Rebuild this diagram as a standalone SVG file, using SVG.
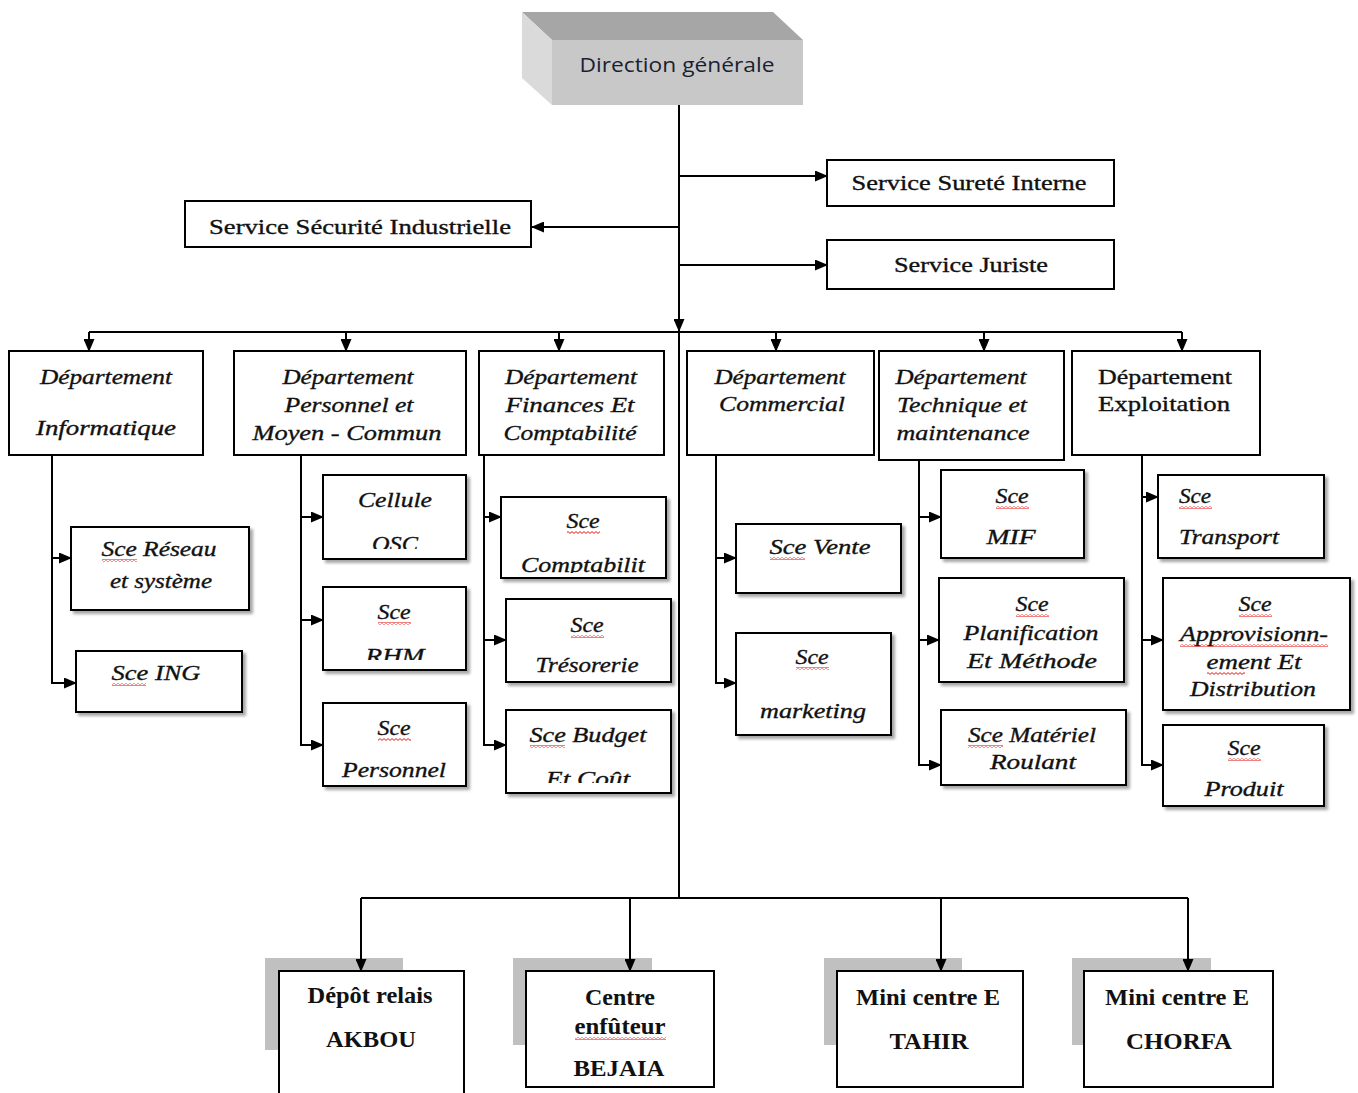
<svg xmlns="http://www.w3.org/2000/svg" width="1358" height="1093" viewBox="0 0 1358 1093">
<style>
.box{fill:#fff;stroke:#000;stroke-width:2}
.sh{filter:url(#ds)}
.con{fill:none;stroke:#000;stroke-width:2}
.arr{marker-end:url(#ah)}
.t{font-family:"Liberation Serif",serif;font-size:22px;fill:#111;text-anchor:middle;stroke:#111;stroke-width:0.35}
.i{font-style:italic}
.b{font-weight:bold;font-size:24px;stroke-width:0}
.s{font-family:"Open Sans","Liberation Sans",sans-serif;font-size:20px;fill:#1a1f33;text-anchor:middle}
.sq{fill:url(#sq)}
.gs{fill:#c0c0c0}
</style>
<defs>
<marker id="ah" markerUnits="userSpaceOnUse" markerWidth="13" markerHeight="11" refX="12" refY="5.5" orient="auto">
<path d="M0,0 L13,5.5 L0,11 z" fill="#000"/>
</marker>
<filter id="ds" x="-10%" y="-10%" width="130%" height="130%">
<feDropShadow dx="3" dy="3" stdDeviation="1.5" flood-color="#000" flood-opacity="0.35"/>
</filter>
<pattern id="sq" patternUnits="userSpaceOnUse" width="4" height="3">
<path d="M0,0.6 L2,2.4 L4,0.6" fill="none" stroke="#e00000" stroke-width="0.9"/>
</pattern>
<clipPath id="cOSC"><rect x="323" y="475" width="143" height="74"/></clipPath>
<clipPath id="cRHM"><rect x="323" y="587" width="143" height="73"/></clipPath>
<clipPath id="cCpt"><rect x="501" y="497" width="148" height="76"/></clipPath>
<clipPath id="cBud"><rect x="506" y="710" width="165" height="73"/></clipPath>
</defs>

<g id="direction-generale">
<polygon points="522,12 773,12 803,40 552,40" fill="#a6a6a6"/>
<polygon points="522,12 552,40 552,105 522,78" fill="#dadada"/>
<rect x="552" y="40" width="251" height="65" fill="#c8c8c8"/>
<text class="s" x="677" y="72" textLength="195" lengthAdjust="spacingAndGlyphs">Direction  générale</text>
</g>

<g id="service-surete-interne">
<rect class="box" x="827" y="160" width="287" height="46"/>
<text class="t" x="969" y="190" textLength="235" lengthAdjust="spacingAndGlyphs">Service Sureté Interne</text>
</g>
<g id="service-juriste">
<rect class="box" x="827" y="240" width="287" height="49"/>
<text class="t" x="971" y="272" textLength="154" lengthAdjust="spacingAndGlyphs">Service Juriste</text>
</g>
<g id="service-securite-industrielle">
<rect class="box" x="185" y="201" width="346" height="46"/>
<text class="t" x="360" y="234" textLength="302" lengthAdjust="spacingAndGlyphs">Service Sécurité Industrielle</text>
</g>

<g id="dept-informatique">
<rect class="box" x="9" y="351" width="194" height="104"/>
<text class="t i" x="106" y="384" textLength="132" lengthAdjust="spacingAndGlyphs">Département</text>
<text class="t i" x="106" y="435" textLength="140" lengthAdjust="spacingAndGlyphs">Informatique</text>
</g>
<g id="dept-personnel">
<rect class="box" x="234" y="351" width="232" height="104"/>
<text class="t i" x="348" y="384" textLength="131" lengthAdjust="spacingAndGlyphs">Département</text>
<text class="t i" x="349" y="412" textLength="129" lengthAdjust="spacingAndGlyphs">Personnel et</text>
<text class="t i" x="347" y="440" textLength="189" lengthAdjust="spacingAndGlyphs">Moyen - Commun</text>
</g>
<g id="dept-finances">
<rect class="box" x="479" y="351" width="185" height="104"/>
<text class="t i" x="571" y="384" textLength="132" lengthAdjust="spacingAndGlyphs">Département</text>
<text class="t i" x="570" y="412" textLength="129" lengthAdjust="spacingAndGlyphs">Finances Et</text>
<text class="t i" x="570" y="440" textLength="133" lengthAdjust="spacingAndGlyphs">Comptabilité</text>
</g>
<g id="dept-commercial">
<rect class="box" x="687" y="351" width="187" height="104"/>
<text class="t i" x="780" y="384" textLength="131" lengthAdjust="spacingAndGlyphs">Département</text>
<text class="t i" x="782" y="411" textLength="126" lengthAdjust="spacingAndGlyphs">Commercial</text>
</g>
<g id="dept-technique">
<rect class="box" x="879" y="351" width="185" height="109"/>
<text class="t i" x="961" y="384" textLength="131" lengthAdjust="spacingAndGlyphs">Département</text>
<text class="t i" x="962" y="412" textLength="130" lengthAdjust="spacingAndGlyphs">Technique et</text>
<text class="t i" x="963" y="440" textLength="133" lengthAdjust="spacingAndGlyphs">maintenance</text>
</g>
<g id="dept-exploitation">
<rect class="box" x="1072" y="351" width="188" height="104"/>
<text class="t" x="1165" y="384" textLength="134" lengthAdjust="spacingAndGlyphs">Département</text>
<text class="t" x="1164" y="411" textLength="132" lengthAdjust="spacingAndGlyphs">Exploitation</text>
</g>

<g id="sce-reseau">
<rect class="box sh" x="71" y="527" width="178" height="83"/>
<text class="t i" x="159" y="556" textLength="115" lengthAdjust="spacingAndGlyphs">Sce Réseau</text>
<text class="t i" x="161" y="588" textLength="102" lengthAdjust="spacingAndGlyphs">et système</text>
<rect class="sq" x="102" y="559" width="35" height="3"/>
</g>
<g id="sce-ing">
<rect class="box sh" x="76" y="651" width="166" height="61"/>
<text class="t i" x="156" y="680" textLength="89" lengthAdjust="spacingAndGlyphs">Sce ING</text>
<rect class="sq" x="112" y="683" width="34" height="3"/>
</g>
<g id="cellule-osc">
<rect class="box sh" x="323" y="475" width="143" height="84"/>
<text class="t i" x="395" y="507" textLength="74" lengthAdjust="spacingAndGlyphs">Cellule</text>
<text class="t i" x="395" y="551" textLength="46" lengthAdjust="spacingAndGlyphs" clip-path="url(#cOSC)">OSC</text>
</g>
<g id="sce-rhm">
<rect class="box sh" x="323" y="587" width="143" height="83"/>
<text class="t i" x="394" y="619" textLength="33" lengthAdjust="spacingAndGlyphs">Sce</text>
<rect class="sq" x="378" y="622" width="33" height="3"/>
<text class="t i" x="395" y="663" textLength="59" lengthAdjust="spacingAndGlyphs" clip-path="url(#cRHM)">RHM</text>
</g>
<g id="sce-personnel">
<rect class="box sh" x="323" y="703" width="143" height="83"/>
<text class="t i" x="394" y="735" textLength="33" lengthAdjust="spacingAndGlyphs">Sce</text>
<rect class="sq" x="378" y="738" width="33" height="3"/>
<text class="t i" x="394" y="777" textLength="104" lengthAdjust="spacingAndGlyphs">Personnel</text>
</g>
<g id="sce-comptabilite">
<rect class="box sh" x="501" y="497" width="165" height="81"/>
<text class="t i" x="583" y="528" textLength="33" lengthAdjust="spacingAndGlyphs">Sce</text>
<rect class="sq" x="567" y="531" width="33" height="3"/>
<text class="t i" x="583" y="572" textLength="124" lengthAdjust="spacingAndGlyphs" clip-path="url(#cCpt)">Comptabilit</text>
</g>
<g id="sce-tresorerie">
<rect class="box sh" x="506" y="599" width="165" height="83"/>
<text class="t i" x="587" y="632" textLength="33" lengthAdjust="spacingAndGlyphs">Sce</text>
<rect class="sq" x="571" y="635" width="33" height="3"/>
<text class="t i" x="587" y="672" textLength="103" lengthAdjust="spacingAndGlyphs">Trésorerie</text>
</g>
<g id="sce-budget">
<rect class="box sh" x="506" y="710" width="165" height="83"/>
<text class="t i" x="588" y="742" textLength="117" lengthAdjust="spacingAndGlyphs">Sce Budget</text>
<rect class="sq" x="530" y="745" width="35" height="3"/>
<text class="t i" x="588" y="786" textLength="84" lengthAdjust="spacingAndGlyphs" clip-path="url(#cBud)">Et Coût</text>
</g>
<g id="sce-vente">
<rect class="box sh" x="736" y="524" width="165" height="69"/>
<text class="t i" x="820" y="554" textLength="101" lengthAdjust="spacingAndGlyphs">Sce Vente</text>
<rect class="sq" x="770" y="557" width="35" height="3"/>
</g>
<g id="sce-marketing">
<rect class="box sh" x="736" y="633" width="155" height="102"/>
<text class="t i" x="812" y="664" textLength="33" lengthAdjust="spacingAndGlyphs">Sce</text>
<rect class="sq" x="796" y="667" width="33" height="3"/>
<text class="t i" x="813" y="718" textLength="106" lengthAdjust="spacingAndGlyphs">marketing</text>
</g>
<g id="sce-mif">
<rect class="box sh" x="941" y="470" width="143" height="88"/>
<text class="t i" x="1012" y="503" textLength="33" lengthAdjust="spacingAndGlyphs">Sce</text>
<rect class="sq" x="996" y="506" width="33" height="3"/>
<text class="t i" x="1011" y="544" textLength="49" lengthAdjust="spacingAndGlyphs">MIF</text>
</g>
<g id="sce-planification">
<rect class="box sh" x="939" y="578" width="185" height="104"/>
<text class="t i" x="1032" y="611" textLength="33" lengthAdjust="spacingAndGlyphs">Sce</text>
<rect class="sq" x="1016" y="614" width="33" height="3"/>
<text class="t i" x="1031" y="640" textLength="135" lengthAdjust="spacingAndGlyphs">Planification</text>
<text class="t i" x="1032" y="668" textLength="130" lengthAdjust="spacingAndGlyphs">Et  Méthode</text>
</g>
<g id="sce-materiel">
<rect class="box sh" x="941" y="710" width="185" height="75"/>
<text class="t i" x="1032" y="742" textLength="128" lengthAdjust="spacingAndGlyphs">Sce Matériel</text>
<rect class="sq" x="968" y="745" width="35" height="3"/>
<text class="t i" x="1033" y="769" textLength="86" lengthAdjust="spacingAndGlyphs">Roulant</text>
</g>
<g id="sce-transport">
<rect class="box sh" x="1158" y="475" width="166" height="83"/>
<text class="t i" x="1195" y="503" textLength="32" lengthAdjust="spacingAndGlyphs">Sce</text>
<rect class="sq" x="1179" y="506" width="33" height="3"/>
<text class="t i" x="1229" y="544" textLength="100" lengthAdjust="spacingAndGlyphs">Transport</text>
</g>
<g id="sce-approvisionnement">
<rect class="box sh" x="1163" y="578" width="187" height="132"/>
<text class="t i" x="1255" y="611" textLength="33" lengthAdjust="spacingAndGlyphs">Sce</text>
<rect class="sq" x="1239" y="614" width="33" height="3"/>
<text class="t i" x="1254" y="641" textLength="148" lengthAdjust="spacingAndGlyphs">Approvisionn-</text>
<rect class="sq" x="1180" y="644" width="148" height="3"/>
<text class="t i" x="1254" y="669" textLength="95" lengthAdjust="spacingAndGlyphs">ement Et</text>
<rect class="sq" x="1207" y="672" width="38" height="3"/>
<text class="t i" x="1253" y="696" textLength="126" lengthAdjust="spacingAndGlyphs">Distribution</text>
</g>
<g id="sce-produit">
<rect class="box sh" x="1163" y="725" width="161" height="81"/>
<text class="t i" x="1244" y="755" textLength="33" lengthAdjust="spacingAndGlyphs">Sce</text>
<rect class="sq" x="1228" y="758" width="33" height="3"/>
<text class="t i" x="1244" y="796" textLength="79" lengthAdjust="spacingAndGlyphs">Produit</text>
</g>

<g id="depot-akbou">
<rect class="gs" x="265" y="958" width="138" height="92"/>
<rect class="box" x="279" y="971" width="185" height="130"/>
<text class="t b" x="370" y="1003" textLength="125" lengthAdjust="spacingAndGlyphs">Dépôt relais</text>
<text class="t b" x="371" y="1047" textLength="90" lengthAdjust="spacingAndGlyphs">AKBOU</text>
</g>
<g id="centre-bejaia">
<rect class="gs" x="513" y="958" width="139" height="87"/>
<rect class="box" x="526" y="971" width="188" height="116"/>
<text class="t b" x="620" y="1005" textLength="70" lengthAdjust="spacingAndGlyphs">Centre</text>
<text class="t b" x="620" y="1034" textLength="91" lengthAdjust="spacingAndGlyphs">enfûteur</text>
<rect class="sq" x="575" y="1037" width="91" height="3"/>
<text class="t b" x="619" y="1076" textLength="91" lengthAdjust="spacingAndGlyphs">BEJAIA</text>
</g>
<g id="mini-centre-tahir">
<rect class="gs" x="824" y="958" width="138" height="87"/>
<rect class="box" x="837" y="971" width="186" height="116"/>
<text class="t b" x="928" y="1005" textLength="144" lengthAdjust="spacingAndGlyphs">Mini centre E</text>
<text class="t b" x="929" y="1049" textLength="79" lengthAdjust="spacingAndGlyphs">TAHIR</text>
</g>
<g id="mini-centre-chorfa">
<rect class="gs" x="1072" y="958" width="139" height="87"/>
<rect class="box" x="1084" y="971" width="189" height="116"/>
<text class="t b" x="1177" y="1005" textLength="144" lengthAdjust="spacingAndGlyphs">Mini centre E</text>
<text class="t b" x="1179" y="1049" textLength="106" lengthAdjust="spacingAndGlyphs">CHORFA</text>
</g>

<g id="connectors">
<path class="con" d="M679,105 V898"/>
<path class="con arr" d="M679,300 V331"/>
<path class="con arr" d="M679,176 H827"/>
<path class="con arr" d="M679,265 H827"/>
<path class="con arr" d="M679,227 H532"/>
<path class="con" d="M89,332 H1182" stroke-width="2.5"/>
<path class="con arr" d="M89,332 V351"/>
<path class="con arr" d="M346,332 V351"/>
<path class="con arr" d="M559,332 V351"/>
<path class="con arr" d="M776,332 V351"/>
<path class="con arr" d="M984,332 V351"/>
<path class="con arr" d="M1182,332 V351"/>
<path class="con arr" d="M52,455 V683 H76"/>
<path class="con arr" d="M52,558 H71"/>
<path class="con arr" d="M301,455 V745 H323"/>
<path class="con arr" d="M301,517 H323"/>
<path class="con arr" d="M301,620 H323"/>
<path class="con arr" d="M484,455 V745 H506"/>
<path class="con arr" d="M484,517 H501"/>
<path class="con arr" d="M484,640 H506"/>
<path class="con arr" d="M716,455 V683 H736"/>
<path class="con arr" d="M716,558 H736"/>
<path class="con arr" d="M919,460 V765 H941"/>
<path class="con arr" d="M919,517 H941"/>
<path class="con arr" d="M919,640 H939"/>
<path class="con arr" d="M1142,455 V765 H1163"/>
<path class="con arr" d="M1142,497 H1158"/>
<path class="con arr" d="M1142,640 H1163"/>
<path class="con" d="M361,898 H1188"/>
<path class="con arr" d="M361,898 V971"/>
<path class="con arr" d="M630,898 V971"/>
<path class="con arr" d="M941,898 V971"/>
<path class="con arr" d="M1188,898 V971"/>
</g>
</svg>
